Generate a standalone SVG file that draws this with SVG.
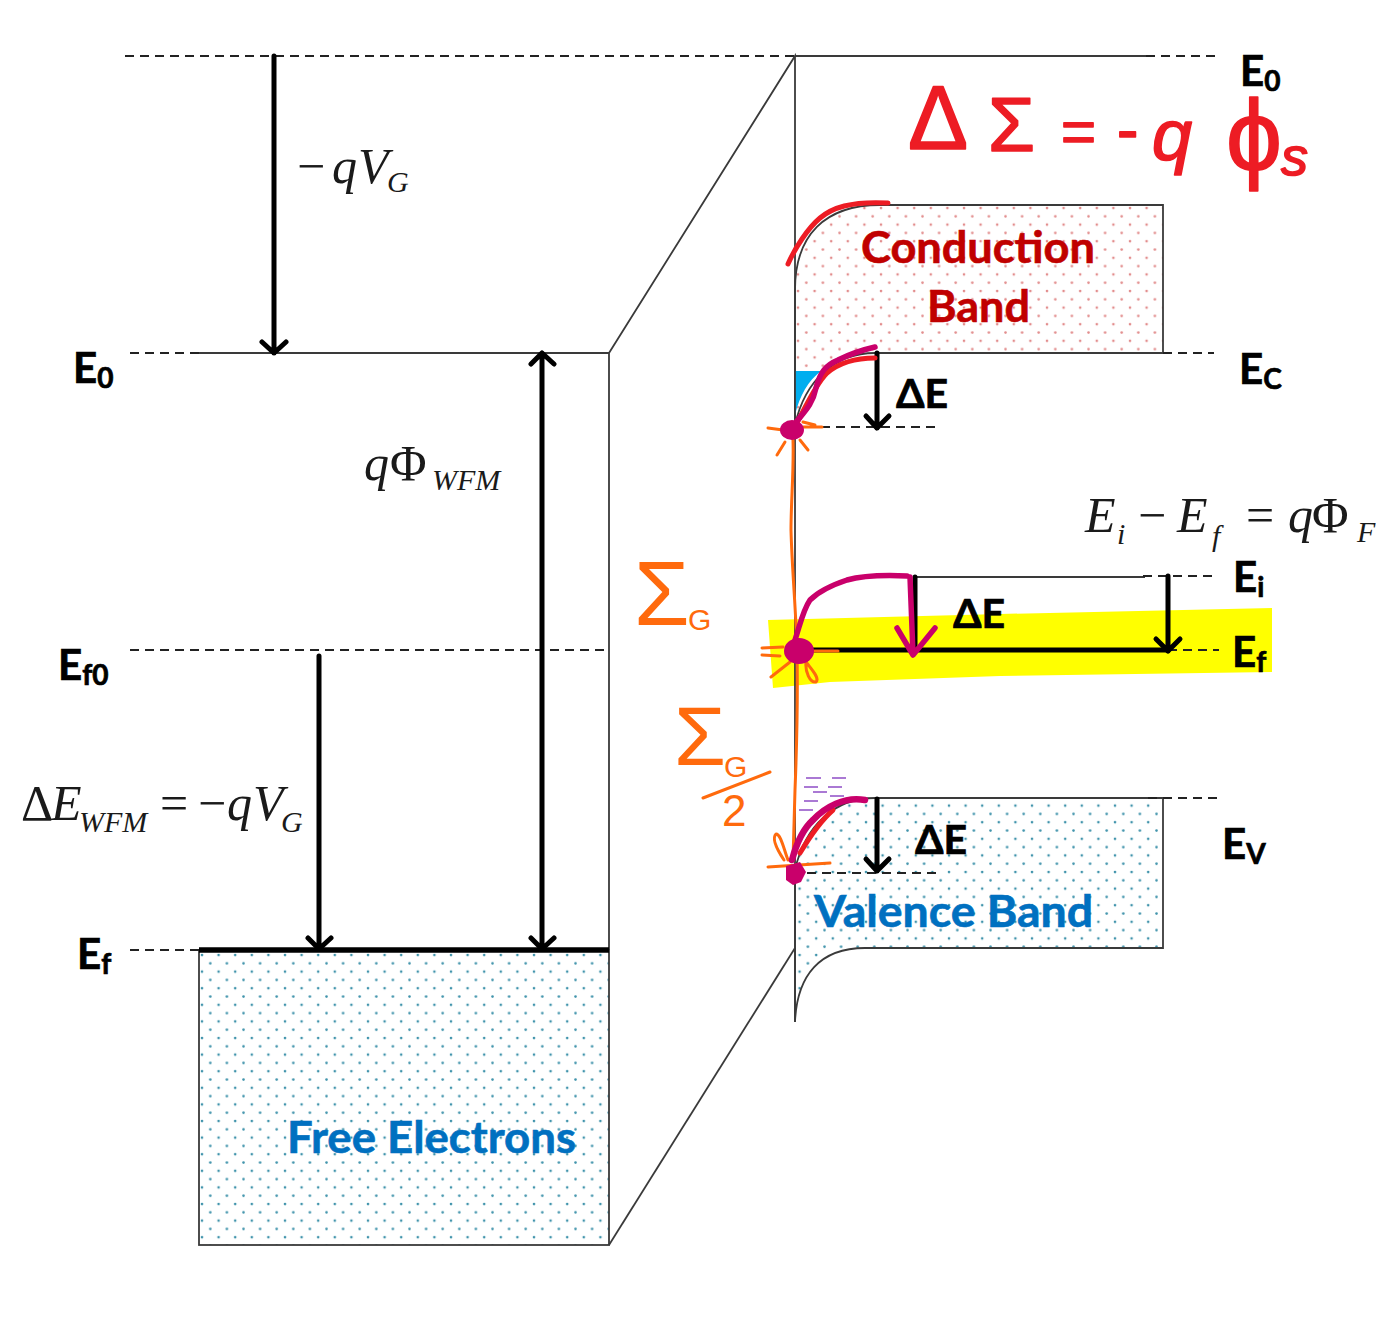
<svg xmlns="http://www.w3.org/2000/svg" width="1376" height="1325" viewBox="0 0 1376 1325">
<style>
.thin{fill:none;stroke:#3a3a3a;stroke-width:1.8}
.box{stroke:#3a3a3a;stroke-width:1.8}
.dash{fill:none;stroke:#222;stroke-width:1.8;stroke-dasharray:9 6}
.arrow{fill:none;stroke:#000;stroke-width:5;stroke-linecap:round;stroke-linejoin:round}
.lab{font-family:"Lato","Open Sans","Liberation Sans",sans-serif;font-weight:700;fill:#000;stroke:#000;stroke-width:.7}
.sub{font-size:28px}
.band{font-family:"Lato","Open Sans","Liberation Sans",sans-serif;font-weight:700;font-size:43px;stroke-width:.6}
.math{font-family:"Liberation Serif",serif;font-style:italic;font-size:50px;fill:#1a1a1a}
.msub{font-size:30px}
.up{font-style:normal}
.red{fill:none;stroke:#ED1C24;stroke-width:5;stroke-linecap:round;stroke-linejoin:round}
.mag{fill:none;stroke:#C9006B;stroke-width:5.5;stroke-linecap:round;stroke-linejoin:round}
.or{fill:none;stroke:#FF6A0D;stroke-width:3;stroke-linecap:round;stroke-linejoin:round}
.pur{fill:none;stroke:#8E4EC6;stroke-width:1.5}
.inkr{font-family:"Liberation Sans",sans-serif;fill:#ED1C24;stroke:#ED1C24;stroke-width:1.6;stroke-linejoin:round}
.inko{font-family:"Liberation Sans",sans-serif;fill:#FF6A0D}
</style>
<defs>
<pattern id="dotsB" width="16.6" height="16.6" patternUnits="userSpaceOnUse" x="200" y="953">
<circle cx="2" cy="2" r="1.3" fill="#3F93AB"/><circle cx="10.3" cy="10.3" r="1.3" fill="#3F93AB"/>
</pattern>
<pattern id="dotsR" width="16.6" height="16.6" patternUnits="userSpaceOnUse" x="796" y="206">
<circle cx="2" cy="2" r="1.3" fill="#E28C8C"/><circle cx="10.3" cy="10.3" r="1.3" fill="#E28C8C"/>
</pattern>
</defs>
<rect width="1376" height="1325" fill="#fff"/>

<g id="highlight"><path d="M768 620 L1000 614 L1272 608 L1272 672 L1000 676 L830 682 L773 688 Z" fill="#FFFF00"/></g>

<g id="metal-free-electrons">
<rect x="199" y="950" width="410" height="295" fill="url(#dotsB)" class="box"/>
<text x="287" y="1153" class="band" fill="#0070C0" stroke="#0070C0" textLength="289" lengthAdjust="spacingAndGlyphs">Free Electrons</text>
</g>

<g id="conduction-band">
<path d="M795 290 C795 235 825 205 880 205 H1163 V353 H875 C835 353 805 380 795 425 Z" fill="url(#dotsR)" class="box"/>
<path d="M795 371 H821 C808 381 800 395 795 415 Z" fill="#00AEEF"/>
<text x="861" y="263" class="band" fill="#C00000" stroke="#C00000" textLength="234" lengthAdjust="spacingAndGlyphs">Conduction</text>
<text x="927" y="322" class="band" fill="#C00000" stroke="#C00000" textLength="103" lengthAdjust="spacingAndGlyphs">Band</text>
</g>

<g id="valence-band">
<path d="M795 1022 C797 975 820 948 865 948 H1163 V798 H875 C835 798 805 825 795 870 Z" fill="url(#dotsB)" class="box"/>
<text x="814" y="927" class="band" fill="#0070C0" stroke="#0070C0" textLength="279" lengthAdjust="spacingAndGlyphs">Valence Band</text>
</g>

<g id="connectors">
<path class="dash" d="M125 56 H795"/>
<path class="thin" d="M795 56 H1150"/>
<path class="dash" d="M1146 56 H1217"/>
<path class="dash" d="M130 353 H199"/>
<path class="thin" d="M199 353 H609 V950"/>
<path class="thin" d="M609 353 L795 56 V1022"/>
<path class="thin" d="M609 1245 L795 948"/>
<path class="dash" d="M130 650 H609"/>
<path class="dash" d="M130 950 H199"/>
<path class="dash" d="M1163 353 H1214"/>
<path class="dash" d="M1148 798 H1218"/>
<path class="dash" d="M806 427 H941"/>
<path class="dash" d="M807 873 H941"/>
<path class="thin" d="M915 577 H1145"/>
<path class="dash" d="M1143 576 H1214"/>
<path class="dash" d="M1168 650 H1219"/>
<path d="M199 950 H609" fill="none" stroke="#000" stroke-width="5.5"/>
<path d="M800 650 H1168" fill="none" stroke="#000" stroke-width="5"/>
<path class="arrow" d="M274 56 V353 M262 342 L274 353 L286 342"/>
<path class="arrow" d="M319 656 V949 M308 938 L319 949 L331 938"/>
<path class="arrow" d="M542 353 V949 M531 364 L542 353 L554 364 M531 938 L542 949 L554 938"/>
<path class="arrow" d="M877 353 V428 M866 416 L877 428 L889 416"/>
<path class="arrow" d="M877 799 V871 M866 859 L877 871 L889 859"/>
<path class="arrow" d="M915 577 V650"/>
<path class="arrow" d="M1168 576 V651 M1156 639 L1168 651 L1180 639"/>
</g>

<g id="labels">
<text x="73" y="383" class="lab" font-size="42">E<tspan class="sub" dy="5">0</tspan></text>
<text x="58" y="680" class="lab" font-size="42">E<tspan class="sub" dy="5">f0</tspan></text>
<text x="77" y="969" class="lab" font-size="42">E<tspan class="sub" dy="5">f</tspan></text>
<text x="1240" y="86" class="lab" font-size="42">E<tspan class="sub" dy="5">0</tspan></text>
<text x="1239" y="384" class="lab" font-size="42">E<tspan class="sub" dy="5">C</tspan></text>
<text x="1233" y="592" class="lab" font-size="42">E<tspan class="sub" dy="5">i</tspan></text>
<text x="1232" y="667" class="lab" font-size="42">E<tspan class="sub" dy="5">f</tspan></text>
<text x="1222" y="859" class="lab" font-size="42">E<tspan class="sub" dy="5">V</tspan></text>
<text x="896" y="408" class="lab" font-size="41">ΔE</text>
<text x="953" y="628" class="lab" font-size="41">ΔE</text>
<text x="915" y="854" class="lab" font-size="41">ΔE</text>
</g>

<g id="equations">
<text class="math" y="183"><tspan x="297" class="up">−</tspan><tspan x="332">q</tspan><tspan x="358">V</tspan><tspan x="387" y="192" class="msub">G</tspan></text>
<text class="math" y="480"><tspan x="364">q</tspan><tspan x="390" class="up">Φ</tspan><tspan x="432" y="490" class="msub">WFM</tspan></text>
<text class="math" y="820"><tspan x="21" class="up">Δ</tspan><tspan x="51">E</tspan><tspan x="79" y="832" class="msub">WFM</tspan><tspan x="160" y="820" class="up">=</tspan><tspan x="198" class="up">−</tspan><tspan x="227">q</tspan><tspan x="253">V</tspan><tspan x="281" y="832" class="msub">G</tspan></text>
<text class="math" y="532"><tspan x="1085">E</tspan><tspan x="1117" y="544" class="msub">i</tspan><tspan x="1138" y="532" class="up">−</tspan><tspan x="1177">E</tspan><tspan x="1212" y="546" class="msub">f</tspan><tspan x="1246" y="532" class="up">=</tspan><tspan x="1288">q</tspan><tspan x="1312" class="up">Φ</tspan><tspan x="1357" y="542" class="msub">F</tspan></text>
</g>

<g id="ink-red">
<path class="red" d="M788 264 C795 248 808 228 820 218 C832 208 850 201 888 203"/>
<path class="red" d="M797 423 C803 412 815 385 827 373 C840 362 858 358 875 358"/>
<path class="red" d="M800 853 C806 843 818 823 833 810"/>
<text class="inkr" font-size="90"><tspan x="908" y="149">Δ</tspan></text>
<text class="inkr" font-size="76"><tspan x="988" y="151">Σ</tspan></text>
<text class="inkr" font-size="60"><tspan x="1061" y="152">=</tspan></text>
<text class="inkr" font-size="64"><tspan x="1117" y="152">-</tspan></text>
<text class="inkr" font-size="72" font-style="italic"><tspan x="1152" y="160">q</tspan></text>
<text class="inkr" font-size="100"><tspan x="1226" y="170">ϕ</tspan></text>
<text class="inkr" font-size="54" font-style="italic"><tspan x="1281" y="175">s</tspan></text>
</g>

<g id="ink-orange">
<path class="or" d="M793 440 C794 470 791 500 791 530 C792 570 796 610 797 650 C798 700 797 740 795 790 L793 860"/>
<path class="or" d="M768 428 L783 430 M803 427 L822 427 M785 442 L777 455 M800 440 L808 450 M803 422 L815 425"/>
<path class="or" d="M762 648 L783 647 M762 655 L780 656 M813 651 L838 651 M771 677 L790 662 M806 662 C812 670 820 678 816 682 C810 683 805 672 806 662"/>
<path class="or" d="M768 867 L830 863 M784 860 C776 848 772 838 776 834 C781 834 784 850 788 860"/>
<text class="inko" font-size="90" x="634" y="625">Σ</text>
<text class="inko" font-size="30" x="688" y="630">G</text>
<text class="inko" font-size="84" x="674" y="765">Σ</text>
<text class="inko" font-size="30" x="724" y="777">G</text>
<text class="inko" font-size="44" x="722" y="826">2</text>
<path class="or" d="M703 798 L770 772"/>
</g>

<g id="ink-purple">
<path class="pur" d="M806 778 H821 M832 778 H846 M804 787 H818 M828 787 H842 M813 792 H827 M830 796 H844 M804 801 H818 M799 810 H813"/>
</g>

<g id="ink-magenta">
<path class="mag" d="M792 428 C800 415 812 408 816 388 C820 372 826 365 838 360 C850 354 862 350 875 347"/>
<ellipse cx="792" cy="430" rx="12" ry="10" fill="#C9006B"/>
<path class="mag" d="M795 640 C800 625 803 610 810 600 C820 590 835 584 847 580 C865 575 885 575 907 576 M910 577 L913 654 M897 628 L913 655 L935 628"/>
<ellipse cx="799" cy="651" rx="15" ry="13" fill="#C9006B"/>
<path class="mag" style="stroke-width:6.5" d="M792 860 C796 845 802 830 813 820 C825 807 845 796 865 800"/>
<path d="M786 866 L800 862 L806 872 L801 882 L793 885 L786 880 Z" fill="#C9006B"/>
</g>
</svg>
